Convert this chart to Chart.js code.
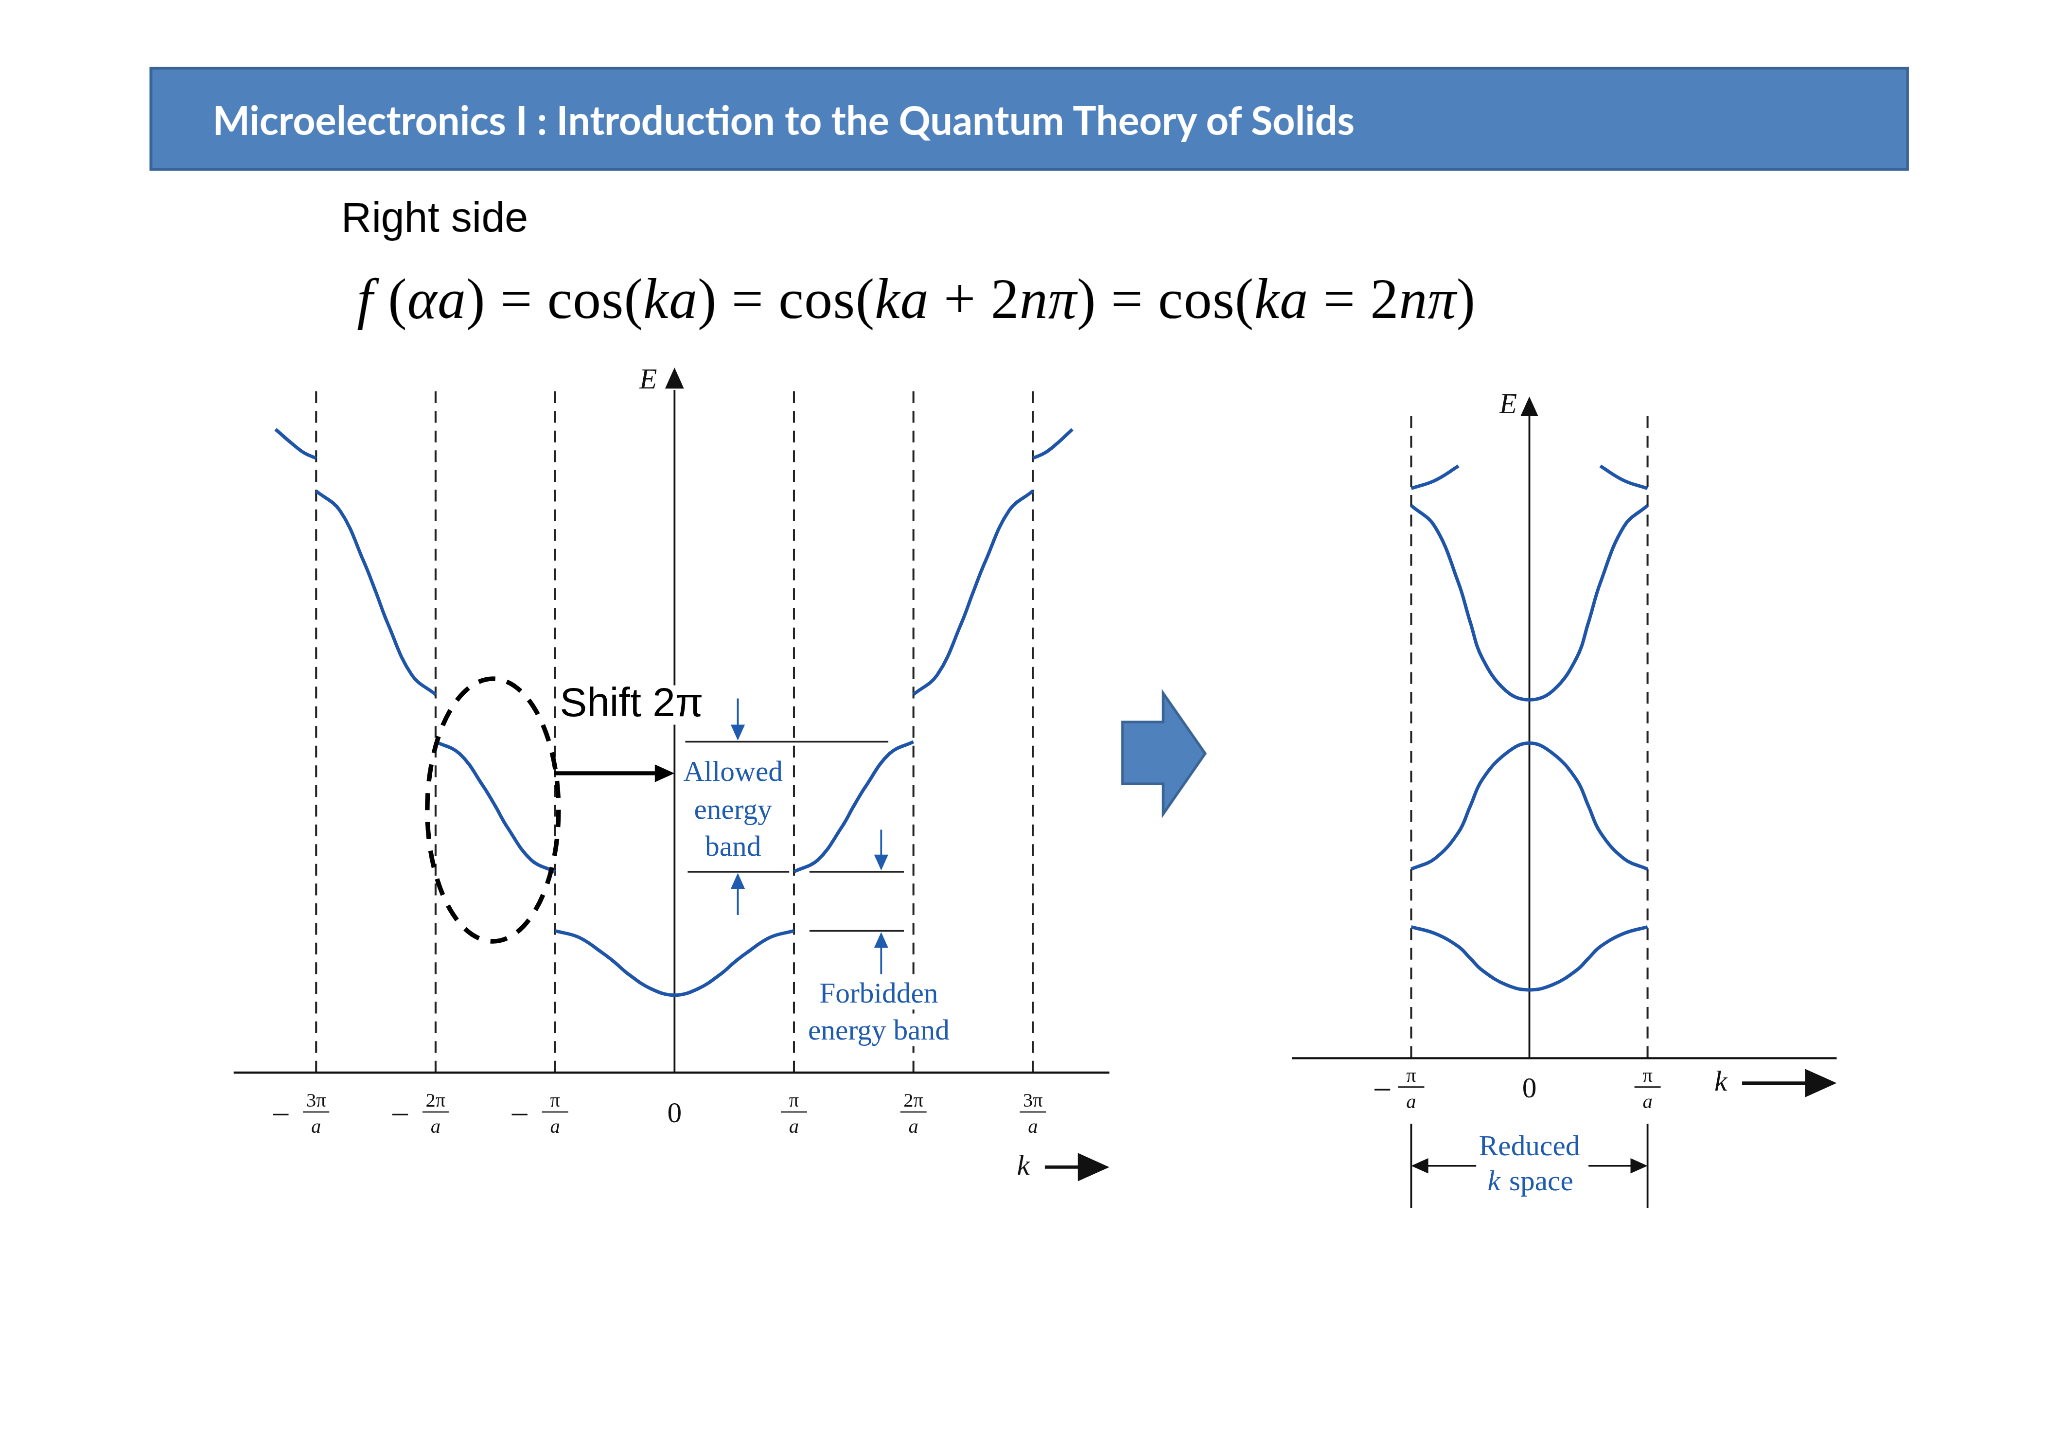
<!DOCTYPE html>
<html>
<head>
<meta charset="utf-8">
<script src="https://cdn.jsdelivr.net/npm/chart.js@4"></script>
<style>
  html, body { margin: 0; padding: 0; background: #fff; overflow: hidden; }
  #page { position: absolute; left: 0; top: 0; width: 1560px; height: 1103px; transform: scale(1.31282); transform-origin: 0 0; }
  #header { position: absolute; left: 114px; top: 51px; width: 1336px; height: 75px; background: #4f81bd; border: 2px solid #3a6496; }
  #header span { position: absolute; left: 46px; top: 20px; color: #fff; font: bold 30px Lato, "Open Sans", sans-serif; }
  #right { position: absolute; left: 260px; top: 148px; font: 32px "Liberation Sans", Arial, sans-serif; }
  #eq { position: absolute; left: 272px; top: 203px; font: 43px "Liberation Serif", "Times New Roman", serif; white-space: nowrap; letter-spacing: 0.4px; }
  .cv { position: absolute; }
</style>
</head>
<body>
<div id="page">
  <div id="header"><span>Microelectronics I : Introduction to the Quantum Theory of Solids</span></div>
  <div id="right">Right side</div>
  <div id="eq"><i>f</i> (<i>αa</i>) = cos(<i>ka</i>) = cos(<i>ka</i> + 2<i>nπ</i>) = cos(<i>ka</i> = 2<i>nπ</i>)</div>
  <svg style="position:absolute;left:0;top:0" width="1560" height="1103">
    <polygon points="855,550 886,550 886,528 918,574 886,620 886,597 855,597" fill="#4f81bd" stroke="#3a6496" stroke-width="2"/>
  </svg>
  <div class="cv" style="left:127px;top:257px;width:760px;height:680px"><canvas id="leftChart"></canvas></div>
  <div class="cv" style="left:954px;top:277px;width:480px;height:680px"><canvas id="rightChart"></canvas></div>
</div>
<script>
// ---- extended zone (left) : k in units of pi/a, E arbitrary ----
const band1X = [-1, -0.8, -0.6, -0.5, -0.4, -0.2, 0, 0.2, 0.4, 0.5, 0.6, 0.8, 1];
const band1E = [1.08, 1.03, 0.91, 0.84, 0.76, 0.64, 0.59, 0.64, 0.76, 0.84, 0.91, 1.03, 1.08];
const band2LX = [-2, -1.8, -1.6, -1.5, -1.4, -1.2, -1];
const band2LE = [2.52, 2.43, 2.18, 2.03, 1.87, 1.62, 1.53];
const band2RX = [1, 1.2, 1.4, 1.5, 1.6, 1.8, 2];
const band2RE = [1.53, 1.62, 1.87, 2.03, 2.18, 2.43, 2.52];
const band3LX = [-3, -2.8, -2.6, -2.5, -2.4, -2.2, -2];
const band3LE = [4.43, 4.28, 3.89, 3.66, 3.42, 3.03, 2.88];
const band3RX = [2, 2.2, 2.4, 2.5, 2.6, 2.8, 3];
const band3RE = [2.88, 3.03, 3.42, 3.66, 3.89, 4.28, 4.43];
const band4LX = [-3.34, -3.2, -3.1, -3];
const band4LE = [4.90, 4.79, 4.72, 4.68];
const band4RX = [3, 3.1, 3.2, 3.33];
const band4RE = [4.68, 4.72, 4.79, 4.90];
const leftTicks = [-3, -2, -1, 0, 1, 2, 3];
const tickNum = ['3π', '2π', 'π', '0', 'π', '2π', '3π'];

// ---- reduced zone (right) ----
const redX = [-1, -0.8, -0.6, -0.5, -0.4, -0.2, 0, 0.2, 0.4, 0.5, 0.6, 0.8, 1];
const redLowE = [1.00, 0.95, 0.85, 0.76, 0.67, 0.56, 0.52, 0.56, 0.67, 0.76, 0.85, 0.95, 1.00];
const redMidE = [1.44, 1.52, 1.72, 1.92, 2.12, 2.32, 2.40, 2.32, 2.12, 1.92, 1.72, 1.52, 1.44];
const redUpE = [4.21, 4.05, 3.62, 3.32, 3.05, 2.80, 2.73, 2.80, 3.05, 3.32, 3.62, 4.05, 4.21];
const redTopLX = [-1, -0.8, -0.6];
const redTopLE = [4.34, 4.40, 4.51];
const redTopRX = [0.6, 0.8, 1];
const redTopRE = [4.51, 4.40, 4.34];
const rightTicks = [-1, 0, 1];
const rightNum = ['π', '0', 'π'];

const BLUE = '#1f55a8';
const TXTBLUE = '#1f5bae';
const SERIF = '"Liberation Serif", "Times New Roman", serif';

function series(xs, es) {
  return {
    data: xs.map((x, i) => ({ x: x, y: es[i] })),
    borderColor: BLUE, borderWidth: 2.6, pointRadius: 0,
    tension: 0.4, fill: false
  };
}

function arrowHead(ctx, x, y, dir, size, color) {
  ctx.save();
  ctx.fillStyle = color;
  ctx.beginPath();
  const s = size, w = size * 0.45;
  if (dir === 'up') { ctx.moveTo(x, y); ctx.lineTo(x - w, y + s); ctx.lineTo(x + w, y + s); }
  if (dir === 'down') { ctx.moveTo(x, y); ctx.lineTo(x - w, y - s); ctx.lineTo(x + w, y - s); }
  if (dir === 'right') { ctx.moveTo(x, y); ctx.lineTo(x - s, y - w); ctx.lineTo(x - s, y + w); }
  if (dir === 'left') { ctx.moveTo(x, y); ctx.lineTo(x + s, y - w); ctx.lineTo(x + s, y + w); }
  ctx.closePath();
  ctx.fill();
  ctx.restore();
}

function line(ctx, x1, y1, x2, y2, color, w, dash) {
  ctx.save();
  ctx.strokeStyle = color; ctx.lineWidth = w;
  ctx.setLineDash(dash || []);
  ctx.beginPath(); ctx.moveTo(x1, y1); ctx.lineTo(x2, y2); ctx.stroke();
  ctx.restore();
}

function boxedText(ctx, txt, x, y, h) {
  const w = ctx.measureText(txt).width;
  const left = ctx.textAlign === 'left' ? x : x - w / 2;
  const col = ctx.fillStyle;
  ctx.fillStyle = '#fff';
  ctx.fillRect(left - 2, y - (h || 22) / 2, w + 4, h || 22);
  ctx.fillStyle = col;
  ctx.fillText(txt, x, y);
}

function fracLabel(ctx, x, y, num, neg, minusGap) {
  ctx.save();
  ctx.fillStyle = '#111';
  ctx.textAlign = 'center';
  if (num === '0') {
    ctx.font = '22px ' + SERIF;
    ctx.textBaseline = 'middle';
    ctx.fillText('0', x, y + 10);
    ctx.restore();
    return;
  }
  ctx.font = '15px ' + SERIF;
  ctx.textBaseline = 'alphabetic';
  ctx.fillText(num, x, y + 4);
  line(ctx, x - 10, y + 8, x + 10, y + 8, '#111', 1);
  ctx.font = 'italic 15px ' + SERIF;
  ctx.fillText('a', x, y + 24);
  if (neg) line(ctx, x - minusGap - 8, y + 10, x - minusGap + 4, y + 10, '#111', 1.2);
  ctx.restore();
}

const leftExtras = {
  id: 'leftExtras',
  beforeDatasetsDraw(chart) {
    const ctx = chart.ctx, X = chart.scales.x, Y = chart.scales.y;
    const px = v => X.getPixelForValue(v), py = v => Y.getPixelForValue(v);
    const y0 = py(0);
    [-3, -2, -1, 1, 2, 3].forEach(k => line(ctx, px(k), y0, px(k), py(5.25), '#222', 1.5, [9, 6]));
    line(ctx, chart.chartArea.left, y0, chart.chartArea.right, y0, '#111', 1.6);
    line(ctx, px(0), y0, px(0), py(5.2), '#111', 1.4);
    arrowHead(ctx, px(0), py(5.37), 'up', 16, '#111');
    ctx.save();
    ctx.font = 'italic 22px ' + SERIF; ctx.fillStyle = '#111'; ctx.textAlign = 'center'; ctx.textBaseline = 'middle';
    ctx.fillText('E', px(-0.22), py(5.27));
    ctx.fillText('k', px(2.92), y0 + 72);
    ctx.restore();
    line(ctx, px(3.1), y0 + 72, px(3.4), y0 + 72, '#111', 2.5);
    arrowHead(ctx, px(3.64), y0 + 72, 'right', 24, '#111');
    leftTicks.forEach((k, i) => fracLabel(ctx, px(k), y0 + 22, tickNum[i], k < 0, 25));
  },
  afterDatasetsDraw(chart) {
    const ctx = chart.ctx, X = chart.scales.x, Y = chart.scales.y;
    const px = v => X.getPixelForValue(v), py = v => Y.getPixelForValue(v);
    line(ctx, px(0.09), py(2.52), px(1.79), py(2.52), '#222', 1.3);
    line(ctx, px(0.11), py(1.53), px(0.96), py(1.53), '#222', 1.3);
    line(ctx, px(1.13), py(1.53), px(1.92), py(1.53), '#222', 1.3);
    line(ctx, px(1.13), py(1.08), px(1.92), py(1.08), '#222', 1.3);
    line(ctx, px(0.53), py(2.85), px(0.53), py(2.64), TXTBLUE, 1.4);
    arrowHead(ctx, px(0.53), py(2.53), 'down', 12, TXTBLUE);
    line(ctx, px(0.53), py(1.2), px(0.53), py(1.41), TXTBLUE, 1.4);
    arrowHead(ctx, px(0.53), py(1.52), 'up', 12, TXTBLUE);
    line(ctx, px(1.73), py(1.85), px(1.73), py(1.65), TXTBLUE, 1.4);
    arrowHead(ctx, px(1.73), py(1.54), 'down', 12, TXTBLUE);
    line(ctx, px(1.73), py(0.75), px(1.73), py(0.96), TXTBLUE, 1.4);
    arrowHead(ctx, px(1.73), py(1.07), 'up', 12, TXTBLUE);
    ctx.save();
    ctx.font = '22px ' + SERIF; ctx.fillStyle = TXTBLUE; ctx.textAlign = 'center'; ctx.textBaseline = 'middle';
    boxedText(ctx, 'Allowed', px(0.49), py(2.28));
    ctx.fillText('energy', px(0.49), py(1.99));
    ctx.fillText('band', px(0.49), py(1.71));
    boxedText(ctx, 'Forbidden', px(1.71), py(0.59));
    boxedText(ctx, 'energy band', px(1.71), py(0.31));
    ctx.font = '31px "Liberation Sans", Arial, sans-serif'; ctx.fillStyle = '#000';
    ctx.textAlign = 'left';
    boxedText(ctx, 'Shift 2π', px(-0.96), py(2.8), 30);
    ctx.restore();
    line(ctx, px(-1.01), py(2.28), px(-0.15), py(2.28), '#000', 3);
    arrowHead(ctx, px(0), py(2.28), 'right', 15, '#000');
    ctx.save();
    ctx.strokeStyle = '#000'; ctx.lineWidth = 3.5; ctx.setLineDash([13, 9]);
    ctx.beginPath();
    ctx.ellipse(px(-1.52), py(2.0), 50, 100, 0, 0, Math.PI * 2);
    ctx.stroke();
    ctx.restore();
  }
};

const rightExtras = {
  id: 'rightExtras',
  beforeDatasetsDraw(chart) {
    const ctx = chart.ctx, X = chart.scales.x, Y = chart.scales.y;
    const px = v => X.getPixelForValue(v), py = v => Y.getPixelForValue(v);
    const y0 = py(0);
    [-1, 1].forEach(k => line(ctx, px(k), y0, px(k), py(4.91), '#222', 1.5, [9, 6]));
    line(ctx, chart.chartArea.left, y0, chart.chartArea.right, y0, '#111', 1.6);
    line(ctx, px(0), y0, px(0), py(4.9), '#111', 1.4);
    arrowHead(ctx, px(0), py(5.04), 'up', 15, '#111');
    ctx.save();
    ctx.font = 'italic 22px ' + SERIF; ctx.fillStyle = '#111'; ctx.textAlign = 'center'; ctx.textBaseline = 'middle';
    ctx.fillText('E', px(-0.18), py(4.97));
    ctx.fillText('k', px(1.62), y0 + 19);
    ctx.restore();
    line(ctx, px(1.8), y0 + 19, px(2.35), y0 + 19, '#111', 2.5);
    arrowHead(ctx, px(2.6), y0 + 19, 'right', 24, '#111');
    rightTicks.forEach((k, i) => fracLabel(ctx, px(k), y0 + 14, rightNum[i], k < 0, 20));
    line(ctx, px(-1), y0 + 50, px(-1), y0 + 114, '#111', 1.4);
    line(ctx, px(1), y0 + 50, px(1), y0 + 114, '#111', 1.4);
    line(ctx, px(-0.95), y0 + 82, px(-0.45), y0 + 82, '#111', 1.3);
    arrowHead(ctx, px(-1), y0 + 82, 'left', 13, '#111');
    line(ctx, px(0.5), y0 + 82, px(0.95), y0 + 82, '#111', 1.3);
    arrowHead(ctx, px(1), y0 + 82, 'right', 13, '#111');
    ctx.save();
    ctx.font = '22px ' + SERIF; ctx.fillStyle = TXTBLUE; ctx.textAlign = 'center'; ctx.textBaseline = 'middle';
    ctx.fillText('Reduced', px(0), y0 + 68);
    ctx.fillText('space', px(0.1), y0 + 95);
    ctx.font = 'italic 22px ' + SERIF;
    ctx.fillText('k', px(-0.3), y0 + 95);
    ctx.restore();
  }
};

function baseOptions(xmin, xmax, ymax, pad) {
  return {
    responsive: true, maintainAspectRatio: false, animation: false, devicePixelRatio: 2.7,
    layout: { padding: pad },
    plugins: { legend: { display: false }, tooltip: { enabled: false } },
    scales: {
      x: { type: 'linear', min: xmin, max: xmax, display: false },
      y: { type: 'linear', min: 0, max: ymax, display: false }
    }
  };
}

new Chart(document.getElementById('leftChart'), {
  type: 'line',
  data: {
    datasets: [
      series(band1X, band1E), series(band2LX, band2LE), series(band2RX, band2RE),
      series(band3LX, band3LE), series(band3RX, band3RE), series(band4LX, band4LE), series(band4RX, band4RE)
    ]
  },
  options: baseOptions(-3.69, 3.64, 5.4, { left: 51, right: 42, top: 20, bottom: 120 }),
  plugins: [leftExtras]
});

new Chart(document.getElementById('rightChart'), {
  type: 'line',
  data: {
    datasets: [
      series(redX, redLowE), series(redX, redMidE), series(redX, redUpE),
      series(redTopLX, redTopLE), series(redTopRX, redTopRE)
    ]
  },
  options: baseOptions(-2.01, 2.6, 5.1, { left: 30, right: 35, top: 19, bottom: 151 }),
  plugins: [rightExtras]
});
</script>
</body>
</html>
